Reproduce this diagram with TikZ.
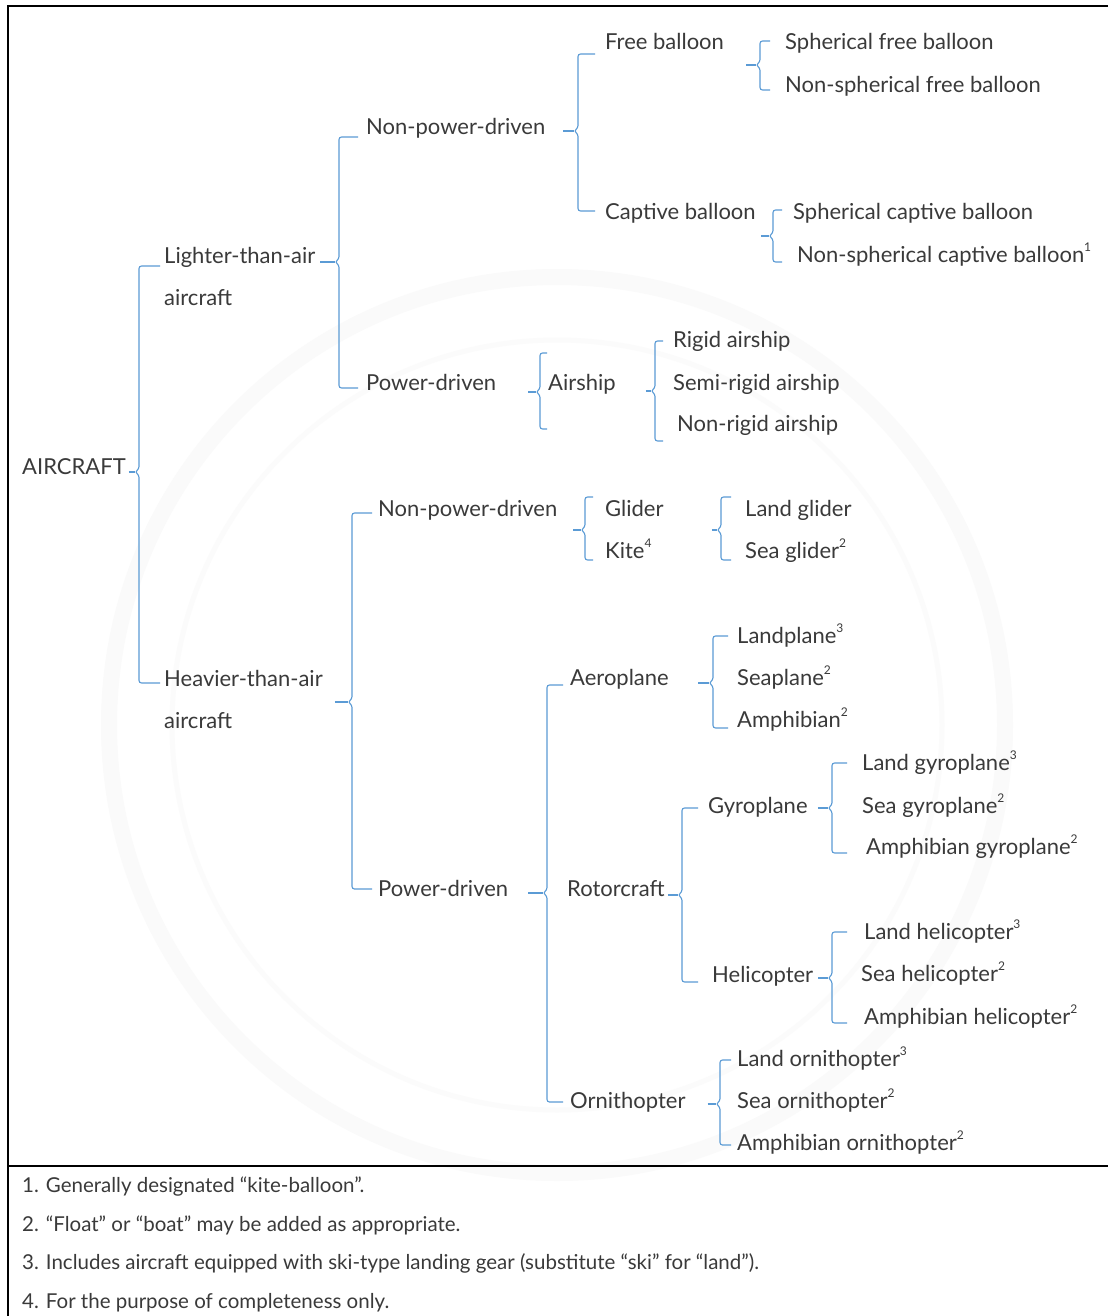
\documentclass[tikz,border=0pt]{standalone}
\usepackage{fontspec}
\usetikzlibrary{calc}
\newfontfamily\lf{Lato}
\definecolor{txt}{HTML}{3A3A3A}
\definecolor{blu}{HTML}{5B9BD5}
\tikzset{
  lbl/.style={anchor=base west, inner sep=0pt, text=txt, font=\lf\fontsize{22}{26}\selectfont},
  fn/.style={anchor=base west, inner sep=0pt, text=txt, font=\lf\fontsize{20.5}{24}\selectfont},
  br/.style={draw=blu, line width=1.1pt, rounded corners=2.5pt},
  frame/.style={draw=black, line width=1.5pt}
}
\newcommand\ssup[1]{\raisebox{0.5em}{\fontsize{12}{12}\selectfont #1}}
\newcommand\brk[8]{%
  \draw[br] let \p1=(#1.east), \p2=(#2.west) in
    (\x2-#7pt,-#4pt) -- (#3pt,-#4pt) -- (#3pt,-#6pt+3pt) -- (#3pt-4pt,-#6pt) -- (#3pt,-#6pt-3pt) -- (#3pt,-#5pt) -- (\x2-#7pt,-#5pt);
  \draw[br] let \p1=(#1.east) in (\x1+#8pt,-#6pt) -- (#3pt-4pt,-#6pt);
}
\begin{document}
\begin{tikzpicture}[x=1pt,y=-1pt]
\useasboundingbox (0,0) rectangle (1108,1316);
\fill[white] (0,0) rectangle (1108,1316);
% faint watermark
\draw[black!2, line width=16pt] (557,725) circle (448);
\draw[black!1.5, line width=5pt] (557,725) circle (385);
% frame
\draw[frame] (1108,6) -- (8,6) -- (8,1316);
\draw[frame] (8,1166) -- (1108,1166);
% nodes
\node[lbl] (air) at (22,474) {AIRCRAFT};
\node[lbl] (lta) at (164,263) {Lighter-than-air};
\node[lbl] (lta2) at (164,305) {aircraft};
\node[lbl] (hta) at (164,686) {Heavier-than-air};
\node[lbl] (hta2) at (164,728) {aircraft};
\node[lbl] (npd1) at (366,135) {Non-power-driven};
\node[lbl] (pd1) at (366,390) {Power-driven};
\node[lbl] (free) at (605,50) {Free balloon};
\node[lbl] (capt) at (605,219) {Captive balloon};
\node[lbl] (sfb) at (785,50) {Spherical free balloon};
\node[lbl] (nsfb) at (785,93) {Non-spherical free balloon};
\node[lbl] (scb) at (793,219) {Spherical captive balloon};
\node[lbl] (nscb) at (797,262) {Non-spherical captive balloon\ssup{1}};
\node[lbl] (airship) at (548,390) {Airship};
\node[lbl] (rigid) at (673,347) {Rigid airship};
\node[lbl] (semi) at (673,390) {Semi-rigid airship};
\node[lbl] (nonrigid) at (677,431) {Non-rigid airship};
\node[lbl] (npd2) at (378,516) {Non-power-driven};
\node[lbl] (pd2) at (378,896) {Power-driven};
\node[lbl] (glider) at (605,516) {Glider};
\node[lbl] (kite) at (605,558) {Kite\ssup{4}};
\node[lbl] (lglider) at (745,516) {Land glider};
\node[lbl] (sglider) at (745,558) {Sea glider\ssup{2}};
\node[lbl] (aero) at (570,685) {Aeroplane};
\node[lbl] (rotor) at (567,896) {Rotorcraft};
\node[lbl] (orni) at (570,1108) {Ornithopter};
\node[lbl] (landp) at (737,643) {Landplane\ssup{3}};
\node[lbl] (seap) at (737,685) {Seaplane\ssup{2}};
\node[lbl] (amph) at (737,727) {Amphibian\ssup{2}};
\node[lbl] (gyro) at (708,813) {Gyroplane};
\node[lbl] (heli) at (712,982) {Helicopter};
\node[lbl] (lgyro) at (862,770) {Land gyroplane\ssup{3}};
\node[lbl] (sgyro) at (862,813) {Sea gyroplane\ssup{2}};
\node[lbl] (agyro) at (866,854) {Amphibian gyroplane\ssup{2}};
\node[lbl] (lheli) at (864,939) {Land helicopter\ssup{3}};
\node[lbl] (sheli) at (861,981) {Sea helicopter\ssup{2}};
\node[lbl] (aheli) at (864,1024) {Amphibian helicopter\ssup{2}};
\node[lbl] (lorn) at (737,1066) {Land ornithopter\ssup{3}};
\node[lbl] (sorn) at (737,1108) {Sea ornithopter\ssup{2}};
\node[lbl] (aorn) at (737,1150) {Amphibian ornithopter\ssup{2}};
% footnotes
\node[fn] (f1) at (22,1192) {1. Generally designated “kite-balloon”.};
\node[fn] (f2) at (22,1231) {2. “Float” or “boat” may be added as appropriate.};
\node[fn] (f3) at (22,1269) {3. Includes aircraft equipped with ski-type landing gear (substitute “ski” for “land”).};
\node[fn] (f4) at (22,1308) {4. For the purpose of completeness only.};
% brackets: parent, first child, vertical x, ytop, ybot, ymid, tick gap, stub gap
\brk{air}{lta}{139}{266}{683}{472}{4}{3}
\brk{lta}{npd1}{339}{137}{388}{262}{8}{5}
\brk{npd1}{free}{578}{54}{211}{131}{10}{18}
\brk{free}{sfb}{760}{41}{90}{65}{15}{22}
\brk{capt}{scb}{773}{210}{262}{236}{11}{5}
\brk{pd1}{airship}{540}{353}{429}{392}{1}{32}
\brk{airship}{rigid}{655}{341}{441}{391}{10}{30}
\brk{hta}{npd2}{352}{513}{889}{702}{6}{12}
\brk{npd2}{glider}{585}{497}{560}{530}{12}{16}
\brk{glider}{lglider}{721}{497}{560}{530}{14}{48}
\brk{pd2}{aero}{547}{685}{1102}{893}{7}{20}
\brk{aero}{landp}{713}{636}{728}{683}{9}{29}
\brk{rotor}{gyro}{682}{808}{982}{895}{10}{3}
\brk{gyro}{lgyro}{832}{763}{853}{808}{15}{10}
\brk{heli}{lheli}{832}{932}{1023}{978}{17}{5}
\brk{orni}{lorn}{720}{1060}{1145}{1104}{6}{22}
\end{tikzpicture}
\end{document}
